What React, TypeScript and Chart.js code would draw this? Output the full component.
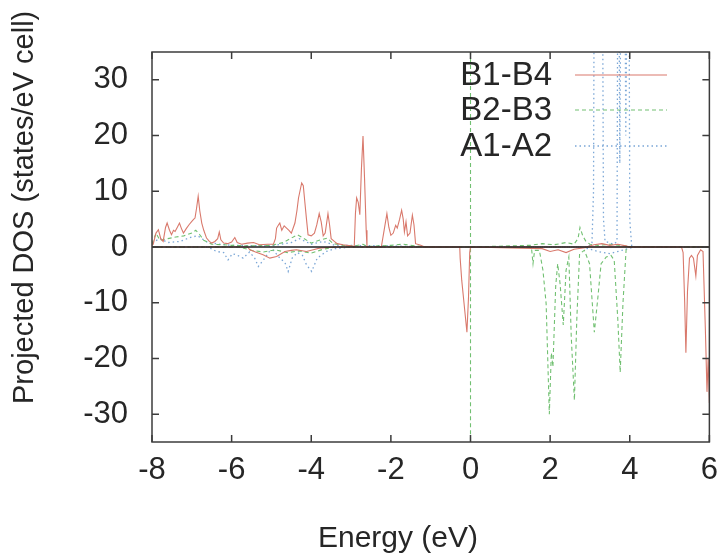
import React, { useEffect, useRef } from "react";
import { Chart, registerables } from "chart.js";

Chart.register(...registerables);

const X_TICKS = [-8, -6, -4, -2, 0, 2, 4, 6];
const Y_TICKS = [-30, -20, -10, 0, 10, 20, 30];
const SERIES_NAMES = ["B1-B4", "B2-B3", "A1-A2"];
const X_TITLE = "Energy (eV)";
const Y_TITLE = "Projected DOS (states/eV cell)";

// B1-B4 (spin up, positive)
const B14_UP_E = [-8.0, -7.97, -7.9, -7.84, -7.78, -7.72, -7.66, -7.62, -7.56, -7.51, -7.46, -7.42, -7.36, -7.31, -7.26, -7.21, -7.14, -7.07, -7.0, -6.95, -6.92, -6.88, -6.84, -6.8, -6.75, -6.7, -6.63, -6.56, -6.5, -6.42, -6.35, -6.31, -6.27, -6.2, -6.1, -6.0, -5.92, -5.86, -5.75, -5.6, -5.45, -5.3, -5.1, -4.95, -4.9, -4.87, -4.82, -4.79, -4.74, -4.68, -4.62, -4.56, -4.5, -4.45, -4.41, -4.36, -4.32, -4.27, -4.24, -4.2, -4.16, -4.12, -4.08, -4.0, -3.92, -3.86, -3.8, -3.75, -3.7, -3.65, -3.58, -3.54, -3.5, -3.42, -3.35, -3.2, -3.0, -2.92, -2.89, -2.86, -2.82, -2.78, -2.74, -2.7, -2.66, -2.62, -2.6, -2.4, -2.24, -2.17, -2.1, -2.05, -2.0, -1.94, -1.88, -1.84, -1.78, -1.73, -1.69, -1.66, -1.62, -1.58, -1.52, -1.46, -1.42, -1.38, -1.25, -1.15, 0, 2.9, 3.1, 3.3, 3.5, 3.7, 3.9, 4.0, 6.0];
const B14_UP_V = [0.3, 0.5, 2.5, 3.1, 1.5, 1.0, 3.5, 4.3, 3.0, 2.2, 3.0, 2.8, 3.6, 4.3, 3.3, 2.5, 3.3, 4.0, 4.6, 5.0, 5.2, 7.0, 9.1, 6.5, 4.3, 3.0, 1.6, 1.0, 0.7, 1.0, 1.5, 2.7, 1.3, 0.7, 0.6, 0.9, 1.7, 0.8, 0.5, 0.7, 0.8, 0.4, 0.5, 0.5, 1.5, 3.4, 4.0, 4.3, 3.0, 3.8, 3.4, 3.0, 2.5, 3.5, 4.3, 6.5, 8.8, 10.5, 11.5, 11.0, 8.0, 5.0, 2.2, 2.0, 2.5, 4.0, 6.0, 4.5, 2.0, 2.5, 6.0, 4.0, 1.5, 1.0, 0.6, 0.4, 0.2, 0.1, 6.0, 8.8, 8.0, 5.8, 14, 19.9, 12, 3, 0, 0, 0, 3, 6.0, 3.5, 2.1, 2.5, 3.9, 3.4, 5.0, 6.6, 5, 2.7, 4.5, 2.0, 2.5, 5.7, 4, 0.6, 0.3, 0, 0, 0, 0.4, 0.6, 0.3, 0.5, 0.2, 0, 0];

// B1-B4 (spin down, negative)
const B14_DN_E = [-8.0, -5.6, -5.54, -5.4, -5.21, -5.04, -4.87, -4.66, -4.5, -4.37, -4.12, -3.95, -3.79, -3.6, -3.3, -0.3, -0.27, -0.26, -0.22, -0.15, -0.09, -0.05, -0.02, 0.0, 1.8, 2.0, 2.2, 2.4, 2.6, 3.0, 5.3, 5.34, 5.38, 5.41, 5.45, 5.5, 5.55, 5.6, 5.66, 5.7, 5.78, 5.84, 5.9, 5.94, 5.97, 6.0];
const B14_DN_V = [0, 0, -0.5, -0.9, -1.4, -2.0, -1.7, -0.8, -0.6, -0.5, -0.8, -0.5, -0.2, -0.1, 0, 0, 0, -2, -6, -11, -15.3, -9, -1, 0, -0.3, -0.8, -0.5, -1.0, -0.4, 0, 0, -1, -10, -19, -8, -2, -1.5, -2, -5.2, -1.5, -0.5, -0.8, -15, -26, -20, -28];

// B2-B3 (spin up); null marks a break after the off-scale spike at E = 0
const B23_UP_E = [-8.0, -7.9, -7.8, -7.6, -7.4, -7.2, -7.0, -6.9, -6.8, -6.7, -6.5, -6.2, -6.0, -5.5, -5.0, -4.7, -4.5, -4.35, -4.2, -4.0, -3.8, -3.6, -3.45, -3.2, -2.9, -2.7, -2.6, -2.0, -1.7, -1.4, -1.0, 0.0, 0.0, 0.0, 0.01, 1.5, 1.8, 2.1, 2.4, 2.6, 2.7, 2.75, 2.82, 2.9, 3.0, 3.2, 3.5, 4.0, 6.0];
const B23_UP_V = [0.5, 2.5, 1.2, 1.5, 1.8, 2.0, 2.5, 3.0, 2.2, 1.2, 0.5, 0.4, 0.3, 0.2, 0.3, 0.8, 1.6, 2.2, 1.6, 0.7, 1.2, 1.6, 0.6, 0.3, 0.2, 0.5, 0.1, 0.3, 0.5, 0.2, 0, 0, 80, null, 0, 0.3, 0.6, 0.4, 0.8, 0.5, 1.5, 3.5, 2.0, 1.0, 0.5, 0.3, 0.5, 0.1, 0];

// B2-B3 (spin down)
const B23_DN_E = [-8.0, -5.8, -5.5, -5.2, -4.9, -4.6, -4.3, -4.0, -3.7, -3.4, 0.0, 0.0, 0.0, 0.01, 1.53, 1.57, 1.61, 1.73, 1.82, 1.9, 1.98, 2.03, 2.07, 2.14, 2.19, 2.25, 2.33, 2.4, 2.47, 2.53, 2.61, 2.67, 2.74, 2.86, 2.99, 3.11, 3.2, 3.28, 3.41, 3.53, 3.61, 3.7, 3.76, 3.83, 3.91, 4.0, 6.0];
const B23_DN_V = [0, 0, -0.6, -0.9, -0.5, -1.0, -0.7, -1.1, -0.4, 0, 0, -80, null, 0, 0, -3.0, -0.6, -0.6, -4.2, -10.2, -30, -19, -21.5, -7, -3, -6.6, -14, -4.2, -1.8, -16, -27.5, -13, -1.2, -0.6, -3, -15.3, -9, -3, -1.8, -1.5, -2.4, -13, -22.5, -10, -0.3, 0, 0];

// A1-A2 (spin up)
const A12_UP_E = [-8.0, -7.8, -7.6, -7.3, -7.0, -6.85, -6.6, -6.3, -6.0, -5.0, -4.5, -4.3, -4.0, -3.7, -3.4, -2.0, -1.0, 2.9, 3.05, 3.09, 3.12, 3.3, 3.34, 3.38, 3.6, 3.68, 3.71, 3.75, 3.8, 3.86, 3.9, 3.97, 4.0, 4.05, 6.0];
const A12_UP_V = [0.8, 1.5, 0.8, 1.0, 1.8, 2.0, 0.8, 0.5, 0.3, 0.2, 0.8, 1.5, 0.5, 1.0, 0.3, 0.2, 0, 0, 0.5, 10, 80, 80, 5, 1, 0.5, 1, 80, 15, 80, 80, 20, 80, 5, 0, 0];

// A1-A2 (spin down)
const A12_DN_E = [-8.0, -6.6, -6.38, -6.2, -6.09, -5.98, -5.88, -5.71, -5.55, -5.42, -5.33, -5.2, -5.05, -4.95, -4.79, -4.66, -4.58, -4.48, -4.35, -4.22, -4.12, -3.99, -3.85, -3.62, -3.4, -3.0, 2.8, 3.2, 3.5, 3.8, 4.1, 6.0];
const A12_DN_V = [0, 0, -0.8, -1.0, -2.3, -1.2, -1.4, -2.0, -0.9, -2.0, -3.5, -2.3, -0.8, -0.6, -2.0, -2.8, -4.4, -2.0, -1.0, -1.5, -3.2, -4.4, -2.0, -0.8, -0.3, 0, 0, -0.8, -1.2, -0.6, 0, 0];

const RED = "#d9796c";
const GREEN = "#72c072";
const BLUE = "#7aa6d6";
const DASH_GREEN = [4, 3];
const DASH_BLUE = [1.5, 3];
const FONT = "'Liberation Sans', Arial, Helvetica, sans-serif";
const TEXT = "#262626";

const pts = (e: number[], v: (number | null)[]) => {
  const n = Math.min(e.length, v.length);
  const out: { x: number; y: number | null }[] = [];
  for (let i = 0; i < n; i++) out.push({ x: e[i], y: v[i] });
  return out;
};

const STYLES = [
  { color: RED, dash: [] as number[], width: 1.1 },
  { color: GREEN, dash: DASH_GREEN, width: 1.1 },
  { color: BLUE, dash: DASH_BLUE, width: 1.3 },
];

const framePlugin = {
  id: "frame",
  afterDatasetsDraw(chart: any) {
    const { ctx, chartArea: a, scales } = chart;
    const x = scales.x;
    const y = scales.y;
    ctx.save();
    // zero axis
    const y0 = y.getPixelForValue(0);
    ctx.strokeStyle = "#1e1e1e";
    ctx.lineWidth = 1.6;
    ctx.beginPath();
    ctx.moveTo(a.left, y0);
    ctx.lineTo(a.right, y0);
    ctx.stroke();
    // frame
    ctx.strokeStyle = "#3c3c3c";
    ctx.lineWidth = 1.5;
    ctx.strokeRect(a.left, a.top, a.right - a.left, a.bottom - a.top);
    // inward ticks
    const L = 7;
    ctx.beginPath();
    for (const v of Y_TICKS) {
      const py = y.getPixelForValue(v);
      ctx.moveTo(a.left, py);
      ctx.lineTo(a.left + L, py);
      ctx.moveTo(a.right, py);
      ctx.lineTo(a.right - L, py);
    }
    for (const v of X_TICKS) {
      const px = x.getPixelForValue(v);
      ctx.moveTo(px, a.bottom);
      ctx.lineTo(px, a.bottom - L);
      ctx.moveTo(px, a.top);
      ctx.lineTo(px, a.top + L);
    }
    ctx.stroke();

    // legend (gnuplot style key)
    const rowsY = [75, 110, 146];
    ctx.font = `33px ${FONT}`;
    ctx.textAlign = "right";
    ctx.textBaseline = "middle";
    SERIES_NAMES.forEach((name, i) => {
      const s = STYLES[i];
      ctx.fillStyle = TEXT;
      ctx.fillText(name, 552, rowsY[i] + 1);
      ctx.strokeStyle = s.color;
      ctx.lineWidth = s.width;
      ctx.setLineDash(s.dash);
      ctx.beginPath();
      ctx.moveTo(575, rowsY[i]);
      ctx.lineTo(667, rowsY[i]);
      ctx.stroke();
      ctx.setLineDash([]);
    });

    // x axis title
    ctx.font = `30px ${FONT}`;
    ctx.fillStyle = TEXT;
    ctx.textAlign = "center";
    ctx.textBaseline = "alphabetic";
    ctx.fillText(X_TITLE, 398, 547);

    // y axis title
    ctx.font = `29px ${FONT}`;
    ctx.textAlign = "left";
    ctx.translate(33, 404);
    ctx.rotate(-Math.PI / 2);
    ctx.fillText(Y_TITLE, 0, 0);
    ctx.restore();
  },
};

export default function App() {
  const ref = useRef<HTMLCanvasElement | null>(null);
  useEffect(() => {
    if (!ref.current) return;
    const mk = (label: string, data: any[], si: number) => ({
      label,
      data,
      borderColor: STYLES[si].color,
      borderWidth: STYLES[si].width,
      borderDash: STYLES[si].dash,
      pointRadius: 0,
      fill: false,
      tension: 0,
      spanGaps: false,
    });
    const chart = new Chart(ref.current, {
      type: "line",
      data: {
        datasets: [
          mk(SERIES_NAMES[0], pts(B14_UP_E, B14_UP_V), 0),
          mk(SERIES_NAMES[0] + " dn", pts(B14_DN_E, B14_DN_V), 0),
          mk(SERIES_NAMES[1], pts(B23_UP_E, B23_UP_V), 1),
          mk(SERIES_NAMES[1] + " dn", pts(B23_DN_E, B23_DN_V), 1),
          mk(SERIES_NAMES[2], pts(A12_UP_E, A12_UP_V), 2),
          mk(SERIES_NAMES[2] + " dn", pts(A12_DN_E, A12_DN_V), 2),
        ] as any,
      },
      options: {
        animation: false,
        responsive: true,
        maintainAspectRatio: false,
        layout: { padding: { top: 52, right: 18, left: 0, bottom: 0 } },
        plugins: { legend: { display: false }, tooltip: { enabled: false } },
        scales: {
          x: {
            type: "linear",
            min: -8,
            max: 6,
            afterBuildTicks: (s: any) => {
              s.ticks = X_TICKS.map((v) => ({ value: v }));
            },
            afterFit: (s: any) => {
              s.height = 111;
            },
            grid: { display: false, drawTicks: false },
            border: { display: false },
            ticks: {
              padding: 10,
              color: TEXT,
              font: { family: FONT, size: 31 },
              maxRotation: 0,
              autoSkip: false,
            },
          },
          y: {
            type: "linear",
            min: -35,
            max: 35,
            afterBuildTicks: (s: any) => {
              s.ticks = Y_TICKS.map((v) => ({ value: v }));
            },
            afterFit: (s: any) => {
              s.width = 152;
            },
            grid: { display: false, drawTicks: false },
            border: { display: false },
            ticks: {
              padding: 24,
              color: TEXT,
              font: { family: FONT, size: 31 },
              autoSkip: false,
            },
          },
        },
      },
      plugins: [framePlugin],
    });
    return () => chart.destroy();
  }, []);
  return (
    <div style={{ position: "fixed", left: 0, top: 0, width: 728, height: 553, background: "#fff" }}>
      <canvas ref={ref} />
    </div>
  );
}
